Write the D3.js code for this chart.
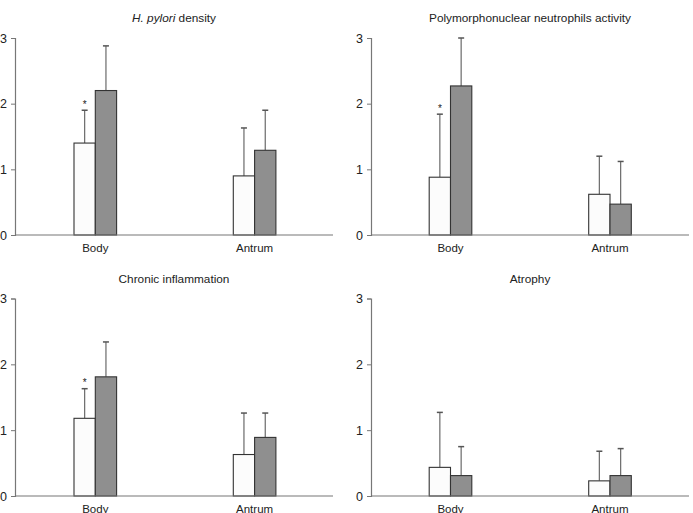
<!DOCTYPE html>
<html><head><meta charset="utf-8">
<script src="https://cdn.jsdelivr.net/npm/d3@7"></script>
<style>
body{margin:0;background:#fff;}
svg{display:block;font-family:"Liberation Sans",Arial,sans-serif;}
</style></head>
<body><svg id="c" width="693" height="513"></svg>
<script>
const categories = ["Body", "Antrum"];
const yTicks = [0, 1, 2, 3];
const titles = ["H. pylori density", "Polymorphonuclear neutrophils activity", "Chronic inflammation", "Atrophy"];
// white series (group 1) means and SD, grey series (group 2) means and SD; per panel, [Body, Antrum]
const whiteMeans = [[1.40, 0.90], [0.88, 0.62], [1.18, 0.63], [0.435, 0.23]];
const whiteErr   = [[0.50, 0.73], [0.96, 0.58], [0.45, 0.63], [0.835, 0.45]];
const greyMeans  = [[2.20, 1.29], [2.27, 0.47], [1.81, 0.89], [0.31, 0.31]];
const greyErr    = [[0.68, 0.61], [0.73, 0.65], [0.53, 0.37], [0.44, 0.41]];
const significant = [[true, false], [true, false], [true, false], [false, false]];

const panels = [
  {ax: 15, ax2: 333, y0: 235, y3: 38, ty: 22},
  {ax: 371, ax2: 689, y0: 235, y3: 38, ty: 22},
  {ax: 15, ax2: 333, y0: 496, y3: 298.5, ty: 283},
  {ax: 371, ax2: 689, y0: 496, y3: 298.5, ty: 283}
];
const catCenters = [[95.3, 254.6], [450.5, 610], [95.3, 254.6], [450.5, 610]];

const svg = d3.select("#c");
panels.forEach((p, i) => {
  const g = svg.append("g");
  const y = d3.scaleLinear().domain([0, 3]).range([p.y0, p.y3]);
  const bw = 21.3;
  const t = g.append("text").attr("x", (p.ax + p.ax2) / 2).attr("y", p.ty)
    .attr("text-anchor", "middle").attr("font-size", 11.8).attr("fill", "#222");
  if (i === 0) {
    t.append("tspan").attr("font-style", "italic").text("H. pylori");
    t.append("tspan").text(" density");
  } else t.text(titles[i]);

  const yAxis = d3.axisLeft(y).tickValues(yTicks).tickSize(4).tickPadding(4).tickFormat(d3.format("d"));
  const ya = g.append("g").attr("transform", `translate(${p.ax},0)`).call(yAxis);
  ya.select(".domain").attr("stroke", "#777").attr("stroke-width", 1.2);
  ya.selectAll(".tick line").attr("stroke", "#777");
  ya.selectAll(".tick text").attr("font-size", 12.5).attr("fill", "#222").attr("font-family", "Liberation Sans, Arial, sans-serif");

  categories.forEach((c, j) => {
    const cx = catCenters[i][j];
    const items = [
      {x: cx - bw, v: whiteMeans[i][j], e: whiteErr[i][j], fill: "#fcfcfc"},
      {x: cx, v: greyMeans[i][j], e: greyErr[i][j], fill: "#8f8f8f"}
    ];
    items.forEach(it => {
      const mx = it.x + bw / 2;
      g.append("line").attr("x1", mx).attr("x2", mx).attr("y1", y(it.v)).attr("y2", y(it.v + it.e))
        .attr("stroke", "#6a6a6a").attr("stroke-width", 1.2);
      g.append("line").attr("x1", mx - 3).attr("x2", mx + 3).attr("y1", y(it.v + it.e)).attr("y2", y(it.v + it.e))
        .attr("stroke", "#555").attr("stroke-width", 1.5);
    });
    items.forEach(it => {
      g.append("rect").attr("x", it.x).attr("y", y(it.v)).attr("width", bw).attr("height", y(0) - y(it.v))
        .attr("fill", it.fill).attr("stroke", "#333").attr("stroke-width", 1.1);
    });
    if (significant[i][j]) {
      const it = items[0];
      g.append("text").attr("x", it.x + bw / 2).attr("y", y(it.v + it.e) - 2.5).attr("text-anchor", "middle")
        .attr("font-size", 10).attr("fill", "#222").text("*");
    }
    g.append("text").attr("x", cx).attr("y", p.y0 + 17).attr("text-anchor", "middle")
      .attr("font-size", 11.5).attr("fill", "#222").text(c);
  });
  g.append("line").attr("x1", p.ax).attr("x2", p.ax2).attr("y1", p.y0).attr("y2", p.y0)
    .attr("stroke", "#777").attr("stroke-width", 1.2);
});
</script></body></html>
